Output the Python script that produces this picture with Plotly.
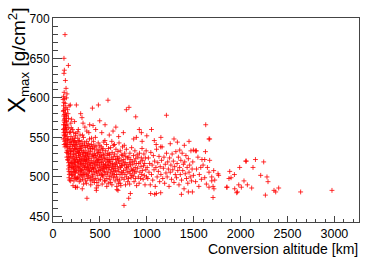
import plotly.graph_objects as go

# Upper vertical band close to the shower start (altitude km, Xmax g/cm2)
band_top = [(128, 680), (117, 650), (164, 641), (121, 635), (117, 631), (132, 622),
            (139, 612), (149, 605), (143, 600), (125, 599), (113, 602), (119, 607)]

band = [(108, 598), (112, 590), (110, 583), (115, 577), (118, 571), (112, 566), (120, 561),
        (116, 556), (123, 552), (110, 548), (125, 545), (119, 541), (128, 538), (131, 556),
        (135, 562), (117, 594), (126, 586), (121, 579), (129, 574), (124, 569), (132, 563),
        (127, 558), (136, 553), (130, 549), (139, 546), (133, 542), (142, 539), (137, 565),
        (145, 531), (140, 571), (148, 525), (143, 578), (130, 593), (138, 588), (134, 581),
        (141, 576), (146, 570), (150, 566), (144, 560), (152, 556), (149, 551), (155, 547),
        (158, 543), (153, 538), (160, 534), (157, 530), (163, 526), (161, 521), (166, 518),
        (168, 514), (164, 510), (171, 507), (174, 503), (170, 499), (176, 496), (180, 512),
        (183, 518), (178, 524), (186, 529), (181, 536), (189, 541), (184, 547), (192, 551),
        (187, 557), (195, 562), (190, 568), (198, 573), (160, 580), (165, 574), (155, 585),
        (172, 590), (168, 562), (175, 556), (162, 548), (179, 544), (173, 538), (185, 532),
        (191, 525), (197, 519), (200, 513), (194, 507), (199, 502), (203, 498), (188, 495),
        (185, 591), (114, 584), (122, 573), (127, 566), (111, 560), (118, 553), (147, 541),
        (151, 533), (156, 522), (169, 529), (177, 515), (182, 505), (193, 534), (196, 544)]

core = [(203, 532), (206, 517), (209, 548), (211, 503), (214, 526), (216, 541), (218, 511),
        (221, 556), (223, 495), (225, 521), (227, 536), (229, 507), (231, 546), (233, 514),
        (235, 529), (237, 499), (239, 552), (241, 519), (243, 538), (245, 509), (247, 525),
        (249, 543), (204, 512), (208, 539), (212, 523), (215, 506), (219, 533), (222, 516),
        (226, 549), (230, 501), (234, 522), (238, 544), (242, 513), (246, 530), (248, 497),
        (207, 560), (213, 489), (220, 528), (228, 518), (236, 535), (240, 505), (244, 555),
        (217, 545), (224, 510), (232, 540),
        (252, 524), (254, 508), (256, 541), (258, 515), (260, 532), (262, 499), (264, 549),
        (266, 519), (268, 536), (270, 505), (272, 527), (274, 545), (276, 511), (278, 530),
        (280, 494), (282, 522), (284, 539), (286, 513), (288, 553), (290, 503), (292, 528),
        (294, 517), (296, 542), (298, 509), (253, 535), (257, 498), (261, 520), (265, 557),
        (269, 512), (273, 531), (277, 500), (281, 546), (285, 525), (289, 507), (293, 536),
        (297, 521), (259, 487), (271, 518), (283, 533), (295, 496),
        (301, 516), (303, 534), (305, 502), (307, 523), (309, 545), (311, 510), (313, 529),
        (315, 497), (317, 540), (319, 515), (321, 526), (323, 506), (325, 550), (327, 519),
        (329, 533), (331, 500), (333, 524), (335, 512), (337, 543), (339, 504), (341, 530),
        (343, 517), (345, 537), (347, 495), (349, 521), (302, 508), (306, 538), (310, 520),
        (314, 553), (318, 503), (322, 531), (326, 491), (330, 514), (334, 540), (338, 522),
        (342, 509), (346, 527), (312, 485),
        (351, 513), (353, 531), (355, 503), (357, 522), (359, 545), (361, 509), (363, 526),
        (365, 498), (367, 538), (369, 516), (371, 528), (373, 505), (375, 519), (377, 542),
        (379, 511), (381, 534), (383, 500), (385, 523), (387, 515), (389, 548), (391, 507),
        (393, 529), (395, 518), (397, 496), (399, 536), (354, 520), (358, 492), (362, 540),
        (366, 512), (370, 530), (374, 502), (378, 524), (382, 556), (386, 508), (392, 539),
        (401, 514), (403, 532), (405, 499), (408, 521), (410, 541), (412, 507), (415, 526),
        (417, 495), (419, 536), (422, 512), (424, 528), (426, 503), (428, 518), (431, 545),
        (433, 509), (435, 524), (437, 497), (440, 535), (442, 515), (444, 530), (446, 505),
        (448, 520), (402, 490), (406, 510), (411, 549), (416, 517), (420, 501), (425, 538),
        (430, 511), (436, 527), (441, 493), (447, 540),
        (451, 511), (453, 527), (456, 498), (458, 519), (460, 538), (463, 506), (465, 524),
        (467, 493), (470, 533), (472, 514), (475, 529), (477, 502), (479, 518), (482, 543),
        (484, 508), (486, 522), (489, 496), (491, 535), (493, 512), (496, 526), (498, 504),
        (452, 550), (459, 516), (466, 507), (474, 521), (481, 489), (487, 531), (494, 518),
        (499, 540), (462, 486),
        (501, 515), (504, 531), (506, 497), (509, 522), (511, 508), (514, 538), (516, 503),
        (519, 525), (521, 513), (524, 491), (526, 534), (529, 510), (531, 520), (534, 500),
        (536, 528), (539, 516), (541, 544), (544, 506), (546, 523), (549, 495), (503, 509),
        (513, 527), (518, 518), (528, 502), (533, 536), (538, 511), (543, 529), (548, 514),
        (551, 507), (554, 524), (556, 495), (559, 516), (561, 533), (564, 503), (566, 520),
        (569, 511), (571, 541), (574, 498), (576, 527), (579, 514), (581, 505), (584, 530),
        (586, 518), (589, 492), (591, 536), (594, 509), (596, 522), (599, 501), (553, 546),
        (563, 512), (573, 488), (583, 522), (593, 515), (598, 529),
        (601, 512), (604, 528), (606, 497), (609, 519), (612, 506), (614, 537), (617, 515),
        (620, 501), (622, 524), (625, 509), (628, 490), (630, 531), (633, 517), (636, 504),
        (638, 522), (641, 511), (644, 540), (646, 499), (649, 526), (603, 520), (615, 493),
        (627, 545), (637, 513), (648, 507),
        (651, 516), (654, 503), (657, 529), (660, 511), (662, 495), (665, 522), (668, 508),
        (671, 535), (674, 500), (677, 518), (680, 488), (683, 526), (686, 513), (689, 497),
        (692, 532), (695, 507), (698, 520), (656, 541), (666, 515), (679, 503), (688, 523),
        (697, 492),
        (702, 510), (705, 524), (708, 496), (711, 517), (714, 503), (717, 533), (720, 512),
        (723, 489), (726, 521), (729, 506), (732, 528), (735, 499), (738, 515), (741, 538),
        (744, 505), (747, 519), (704, 543), (716, 492), (730, 514), (743, 527),
        (752, 508), (755, 522), (758, 497), (761, 515), (764, 530), (767, 503), (770, 518),
        (773, 490), (776, 526), (779, 510), (782, 535), (785, 500), (788, 516), (791, 506),
        (794, 524), (797, 494), (760, 540), (786, 512),
        (802, 513), (805, 498), (808, 525), (811, 507), (814, 518), (817, 491), (820, 530),
        (823, 504), (826, 515), (829, 522), (832, 499), (835, 510), (838, 537), (841, 502),
        (844, 519), (847, 508),
        (852, 516), (855, 501), (858, 527), (861, 509), (864, 494), (867, 520), (870, 505),
        (873, 533), (876, 512), (879, 498), (882, 523), (885, 507), (888, 517), (891, 489),
        (896, 528),
        (902, 511), (906, 525), (910, 500), (914, 517), (918, 492), (922, 530), (926, 506),
        (930, 519), (934, 498), (938, 513), (942, 524), (946, 503), (949, 536),
        (953, 508), (957, 521), (961, 497), (965, 514), (969, 529), (973, 502), (977, 517),
        (981, 490), (985, 524), (989, 509), (993, 533), (997, 500)]

mid = [(1004, 512), (1010, 498), (1017, 524), (1023, 506), (1030, 517), (1037, 490),
       (1043, 531), (1050, 503), (1057, 515), (1063, 496), (1070, 527), (1077, 509),
       (1083, 520), (1090, 488), (1097, 512), (1104, 535), (1110, 500), (1117, 518),
       (1123, 507), (1130, 526), (1137, 494), (1143, 513), (1150, 503), (1157, 521),
       (1163, 538), (1170, 498), (1177, 511), (1183, 525), (1190, 492), (1197, 516),
       (1204, 505), (1210, 530), (1217, 500), (1223, 519), (1230, 510), (1237, 488),
       (1243, 524), (1250, 506), (1257, 515), (1263, 497), (1270, 529), (1277, 509),
       (1283, 520), (1290, 493), (1297, 513), (1304, 503), (1310, 532), (1317, 499),
       (1323, 517), (1330, 508), (1337, 525), (1343, 490), (1350, 512), (1357, 503),
       (1363, 521), (1370, 496), (1377, 530), (1383, 508), (1390, 516), (1397, 485),
       (1404, 519), (1410, 504), (1417, 527), (1423, 498), (1430, 512), (1437, 492),
       (1443, 523), (1450, 506), (1457, 515), (1463, 500), (1470, 533), (1477, 495),
       (1483, 510), (1490, 519), (1497, 502)]

upper = [(249, 591), (295, 580), (309, 575), (420, 587), (484, 591), (586, 597),
         (782, 585), (810, 588), (882, 576), (498, 571), (391, 566), (427, 565),
         (1209, 578), (1628, 566), (1326, 544), (1351, 534), (1518, 533), (1625, 532),
         (270, 560), (340, 563), (360, 558), (455, 560), (520, 556), (600, 553),
         (640, 558), (700, 551), (750, 556), (860, 548), (950, 545), (1000, 552),
         (1080, 546), (1150, 550), (1250, 542), (1100, 541), (1400, 540), (1290, 548),
         (1450, 545), (1050, 560), (230, 570), (320, 568), (555, 566), (670, 563),
         (920, 560), (942, 556), (889, 550), (1148, 538), (1497, 534), (1529, 533),
         (1663, 548), (1670, 548)]

lower = [(239, 487), (362, 473), (462, 483), (682, 484), (757, 464), (807, 473),
         (825, 479), (1084, 478), (1148, 480), (1369, 478), (1443, 481), (1486, 481),
         (1041, 479), (1102, 479), (242, 487), (693, 483)]

tail = [(1588, 522), (1617, 522), (1670, 521), (1713, 508), (1646, 512), (1575, 512),
        (1663, 506), (1759, 504), (1766, 502), (1692, 500), (1582, 497), (1617, 499),
        (1724, 496), (1692, 495), (1635, 491), (1663, 487), (1706, 488), (1716, 485),
        (1706, 474), (1884, 507), (1876, 498), (1898, 499), (1934, 503), (1990, 512),
        (2036, 495), (2054, 520), (2061, 520), (2158, 522), (2132, 512), (2246, 519),
        (2214, 502), (2281, 500), (2292, 494), (2118, 486), (2072, 490), (1980, 490),
        (2008, 487), (1937, 485), (1966, 481), (1855, 487), (2264, 477), (2356, 483),
        (2374, 481), (2406, 486), (2640, 481), (2974, 483), (1852, 487), (1958, 480),
        (1530, 510), (1545, 525), (1560, 503), (1600, 515), (1520, 494), (1555, 488)]

groups = [band_top, band, core, mid, upper, lower, tail]
alt = [p[0] for g in groups for p in g]
xmax = [p[1] for g in groups for p in g]

x_ticks = [0, 500, 1000, 1500, 2000, 2500, 3000]
y_ticks = [450, 500, 550, 600, 650, 700]

fig = go.Figure(go.Scatter(
    x=alt, y=xmax, mode="markers",
    marker=dict(symbol="cross-thin", size=3.5, color="rgba(255,0,0,0.8)",
                line=dict(width=1, color="rgba(255,0,0,0.8)")),
    hoverinfo="skip"))

font = "Liberation Sans, Arial, Helvetica, sans-serif"
fig.update_layout(
    width=382, height=262,
    margin=dict(l=53, r=23, t=15, b=40),
    paper_bgcolor="white", plot_bgcolor="white",
    showlegend=False,
    font=dict(family=font, size=12, color="black"),
)
fig.update_xaxes(
    range=[0, 3262], tickvals=x_ticks, ticktext=[str(v) for v in x_ticks],
    showgrid=False, zeroline=False,
    showline=True, linecolor="#444", linewidth=1, mirror=True,
    ticks="inside", ticklen=6, tickcolor="#444",
    minor=dict(ticks="inside", ticklen=3, dtick=100, tick0=0, tickcolor="#444"),
    tickfont=dict(family=font, size=12.5, color="black"),
)
fig.update_yaxes(
    range=[443, 701], tickvals=y_ticks, ticktext=[str(v) for v in y_ticks],
    showgrid=False, zeroline=False,
    showline=True, linecolor="#444", linewidth=1, mirror=True,
    ticks="inside", ticklen=9, tickcolor="#444",
    minor=dict(ticks="inside", ticklen=4.5, dtick=10, tick0=0, tickcolor="#444"),
    tickfont=dict(family=font, size=12, color="black"),
)
fig.add_annotation(
    text='<span style="font-size:24px">X</span><sub>max</sub> [g/cm<sup>2</sup>]',
    textangle=-90,
    xref="paper", yref="paper", x=-0.168, y=1.064, xanchor="left", yanchor="top",
    showarrow=False, font=dict(family=font, size=19, color="black"))
fig.add_annotation(
    text="Conversion altitude [km]",
    xref="paper", yref="paper", x=1.004, y=-0.18, xanchor="right", yanchor="bottom",
    showarrow=False, font=dict(family=font, size=14, color="black"))

fig.write_html("out.html", config={"displayModeBar": False},
               post_script="document.body.style.margin='0';")
